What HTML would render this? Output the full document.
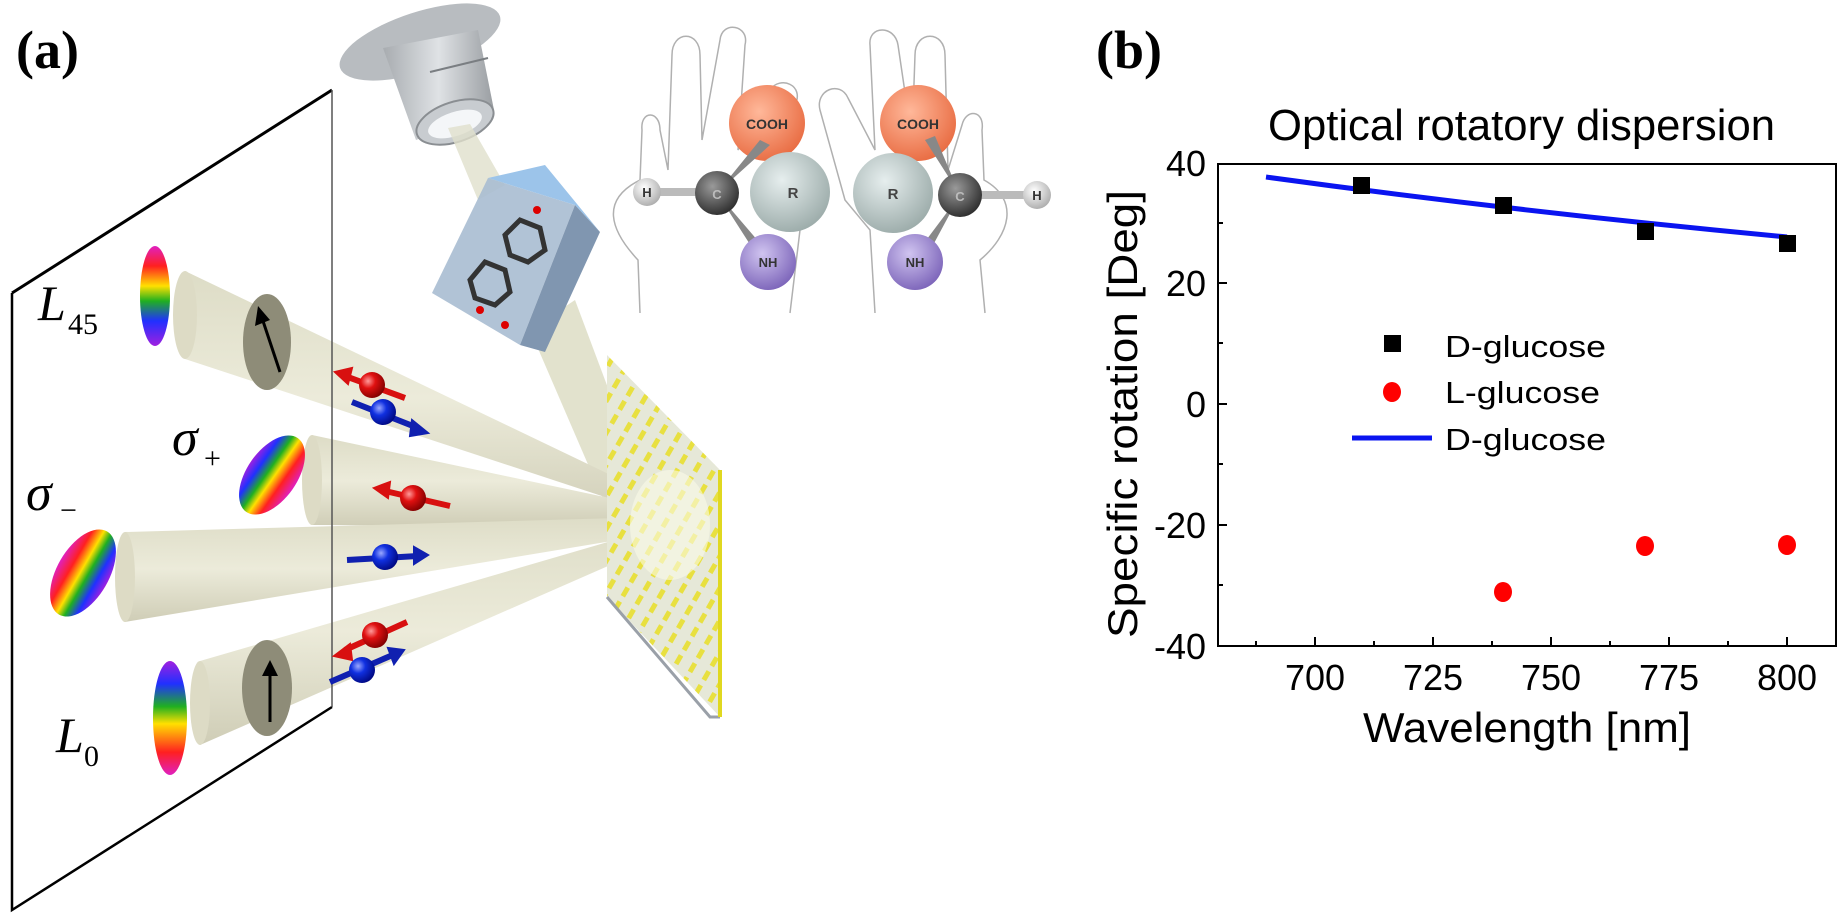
<!DOCTYPE html>
<html><head><meta charset="utf-8"><style>
html,body{margin:0;padding:0;background:#fff;width:1846px;height:919px;overflow:hidden}
svg{display:block}
</style></head><body>
<svg width="1846" height="919" viewBox="0 0 1846 919" xmlns="http://www.w3.org/2000/svg">
<defs>
<linearGradient id="rbV" x1="0" y1="0" x2="0" y2="1">
<stop offset="0" stop-color="#e020c0"/><stop offset="0.2" stop-color="#ff2020"/><stop offset="0.4" stop-color="#ffe000"/><stop offset="0.55" stop-color="#20b020"/><stop offset="0.75" stop-color="#2030ff"/><stop offset="1" stop-color="#a020e0"/></linearGradient>
<linearGradient id="rbV2" x1="0" y1="0" x2="0" y2="1">
<stop offset="0" stop-color="#a020e0"/><stop offset="0.2" stop-color="#2030ff"/><stop offset="0.4" stop-color="#20b020"/><stop offset="0.55" stop-color="#ffe000"/><stop offset="0.8" stop-color="#ff2020"/><stop offset="1" stop-color="#e020c0"/></linearGradient>
<linearGradient id="rbH" x1="0" y1="0" x2="1" y2="0">
<stop offset="0" stop-color="#e020c0"/><stop offset="0.25" stop-color="#ff2020"/><stop offset="0.45" stop-color="#ffe000"/><stop offset="0.6" stop-color="#20b020"/><stop offset="0.8" stop-color="#2030ff"/><stop offset="1" stop-color="#a020e0"/></linearGradient>
<linearGradient id="rbH2" x1="0" y1="0" x2="1" y2="0">
<stop offset="0" stop-color="#a020e0"/><stop offset="0.2" stop-color="#2030ff"/><stop offset="0.4" stop-color="#20b020"/><stop offset="0.55" stop-color="#ffe000"/><stop offset="0.75" stop-color="#ff2020"/><stop offset="1" stop-color="#e020c0"/></linearGradient>
<linearGradient id="cone" x1="0" y1="0" x2="0" y2="1">
<stop offset="0" stop-color="#dddcc6"/><stop offset="0.5" stop-color="#ecebda"/><stop offset="1" stop-color="#cfcdb6"/></linearGradient>
<radialGradient id="red" cx="0.35" cy="0.35" r="0.7"><stop offset="0" stop-color="#ff9a9a"/><stop offset="0.4" stop-color="#e01010"/><stop offset="1" stop-color="#800000"/></radialGradient>
<radialGradient id="blue" cx="0.35" cy="0.35" r="0.7"><stop offset="0" stop-color="#9aa8ff"/><stop offset="0.4" stop-color="#1030e0"/><stop offset="1" stop-color="#000880"/></radialGradient>
<radialGradient id="orn" cx="0.4" cy="0.35" r="0.7"><stop offset="0" stop-color="#ffb89a"/><stop offset="1" stop-color="#e86a40"/></radialGradient>
<radialGradient id="gry" cx="0.4" cy="0.35" r="0.7"><stop offset="0" stop-color="#e6eeee"/><stop offset="1" stop-color="#9aaaa8"/></radialGradient>
<radialGradient id="drk" cx="0.4" cy="0.35" r="0.7"><stop offset="0" stop-color="#9a9a9a"/><stop offset="1" stop-color="#2a2a2a"/></radialGradient>
<radialGradient id="pur" cx="0.4" cy="0.35" r="0.7"><stop offset="0" stop-color="#d0c4f0"/><stop offset="1" stop-color="#7a62b8"/></radialGradient>
<radialGradient id="wht" cx="0.4" cy="0.35" r="0.7"><stop offset="0" stop-color="#ffffff"/><stop offset="1" stop-color="#aaaaaa"/></radialGradient>
<linearGradient id="metal" x1="0" y1="0" x2="1" y2="0"><stop offset="0" stop-color="#a8acb0"/><stop offset="0.5" stop-color="#dfe2e5"/><stop offset="1" stop-color="#9a9ea2"/></linearGradient>
<pattern id="bars" width="16" height="16" patternUnits="userSpaceOnUse" patternTransform="rotate(30)">
<rect width="16" height="16" fill="#e6e8d8"/><rect x="3" y="3" width="5" height="10" fill="#e8e040"/></pattern>
</defs>

<text x="16" y="68" font-family="Liberation Serif, serif" font-weight="bold" font-size="54">(a)</text>

<g>
<ellipse cx="420" cy="42" rx="84" ry="30" transform="rotate(-18 420 42)" fill="#b8bcc0"/>
<path d="M383 48 L478 30 L494 110 L416 140 Z" fill="url(#metal)"/>
<ellipse cx="455" cy="122" rx="40" ry="20" transform="rotate(-18 455 122)" fill="#c8ccd0" stroke="#8a8e92" stroke-width="2"/>
<ellipse cx="455" cy="124" rx="28" ry="12" transform="rotate(-18 455 124)" fill="#f4f6f8"/>
<path d="M430 72 L488 58" stroke="#7a7e82" stroke-width="2"/>
</g>
<path d="M448 128 L470 124 L505 185 L478 200 Z" fill="#e0e0cc" opacity="0.8"/>
<path d="M530 330 L575 300 L650 500 L612 520 Z" fill="#dfdfc8" opacity="0.9"/>

<g>
<path d="M432 293 L488 178 L575 205 L520 345 Z" fill="#a9bcd2" opacity="0.9"/>
<path d="M488 178 L545 165 L600 232 L575 205 Z" fill="#9cc4ea"/>
<path d="M575 205 L600 232 L545 352 L520 345 Z" fill="#8096b0"/>
<g stroke="#333" stroke-width="5" fill="none">
<path d="M470 280 L485 262 L505 270 L510 292 L495 305 L475 298 Z"/>
<path d="M505 235 L520 220 L540 228 L545 250 L528 262 L510 255 Z"/>
</g>
<circle cx="480" cy="310" r="4" fill="#d00"/><circle cx="537" cy="210" r="4" fill="#d00"/><circle cx="505" cy="325" r="4" fill="#d00"/>
</g>

<g fill="none" stroke="#b0b0b0" stroke-width="1.5">
<path d="M640 313 L638 260 C610 230 600 200 640 180 L642 130 C640 110 660 110 660 130 L668 170 L672 55 C672 30 700 30 700 55 L702 140 L720 40 C722 20 750 25 745 45 L738 150 L770 90 C780 75 805 85 795 105 L770 200 L800 230 L790 313"/>
<path d="M875 313 L870 230 L845 200 L820 110 C815 90 840 80 848 98 L875 150 L870 45 C868 25 895 25 898 45 L912 140 L915 55 C915 30 945 30 945 55 L948 170 L962 125 C966 108 985 110 982 130 L984 180 C1020 200 1010 235 980 260 L985 313"/>
</g>

<g font-family="Liberation Sans, sans-serif" font-weight="bold" text-anchor="middle">
<circle cx="767" cy="123" r="38" fill="url(#orn)"/>
<text x="767" y="129" font-size="14" fill="#333">COOH</text>
<rect x="650" y="188" width="60" height="8" fill="#bbb"/>
<circle cx="647" cy="192" r="14" fill="url(#wht)"/><text x="647" y="197" font-size="13" fill="#333">H</text>
<path d="M717 193 L760 140 L770 145 Z" fill="#888"/>
<path d="M717 193 L770 255 L760 260 Z" fill="#888"/>
<circle cx="790" cy="192" r="40" fill="url(#gry)"/><text x="793" y="198" font-size="15" fill="#444">R</text>
<circle cx="717" cy="193" r="22" fill="url(#drk)"/><text x="717" y="199" font-size="13" fill="#bbb">C</text>
<circle cx="768" cy="262" r="28" fill="url(#pur)"/><text x="768" y="267" font-size="13" fill="#333">NH</text>

<circle cx="918" cy="123" r="38" fill="url(#orn)"/>
<text x="918" y="129" font-size="14" fill="#333">COOH</text>
<rect x="960" y="191" width="70" height="8" fill="#bbb"/>
<circle cx="1037" cy="195" r="14" fill="url(#wht)"/><text x="1037" y="200" font-size="13" fill="#333">H</text>
<path d="M960 195 L925 140 L935 136 Z" fill="#888"/>
<path d="M960 195 L915 255 L925 260 Z" fill="#888"/>
<circle cx="893" cy="193" r="40" fill="url(#gry)"/><text x="893" y="199" font-size="15" fill="#444">R</text>
<circle cx="960" cy="195" r="22" fill="url(#drk)"/><text x="960" y="201" font-size="13" fill="#bbb">C</text>
<circle cx="915" cy="262" r="28" fill="url(#pur)"/><text x="915" y="267" font-size="13" fill="#333">NH</text>
</g>

<path d="M12 293 L332 90" stroke="#000" stroke-width="3" fill="none"/>
<path d="M12 293 L12 910 L332 707" stroke="#000" stroke-width="2.5" fill="none"/>

<g>
<path d="M185 271 L690 513 L690 525 L185 359 Z" fill="url(#cone)"/>
<ellipse cx="185" cy="315" rx="12" ry="44" fill="#dddbc5"/>
<path d="M312 435 L690 515 L690 527 L312 525 Z" fill="url(#cone)"/>
<ellipse cx="312" cy="480" rx="10" ry="45" fill="#dddbc5"/>
<path d="M125 532 L690 516 L690 528 L125 622 Z" fill="url(#cone)"/>
<ellipse cx="125" cy="577" rx="10" ry="45" fill="#dddbc5"/>
<path d="M200 661 L690 518 L690 530 L200 745 Z" fill="url(#cone)"/>
<ellipse cx="200" cy="703" rx="10" ry="42" fill="#dddbc5"/>
</g>
<path d="M332 90 L332 707" stroke="#555" stroke-width="1.5"/>

<ellipse cx="267" cy="342" rx="24" ry="48" fill="#8e8c78"/>
<path d="M280 372 L262 318" stroke="#000" stroke-width="3"/>
<path d="M258 306 L255 326 L270 320 Z" fill="#000"/>
<ellipse cx="267" cy="688" rx="25" ry="48" fill="#8e8c78"/>
<path d="M270 722 L270 672" stroke="#000" stroke-width="3"/>
<path d="M270 660 L262 676 L278 676 Z" fill="#000"/>

<ellipse cx="155" cy="296" rx="15" ry="50" fill="url(#rbV)"/>
<ellipse cx="272" cy="475" rx="25" ry="45" transform="rotate(35 272 475)" fill="url(#rbH2)"/>
<ellipse cx="83" cy="573" rx="26" ry="48" transform="rotate(30 83 573)" fill="url(#rbH)"/>
<ellipse cx="170" cy="718" rx="17" ry="57" fill="url(#rbV2)"/>

<g stroke-width="6" fill="none">
<path d="M345 376 L405 398" stroke="#d81010"/><path d="M335 372 L352 368 L348 384 Z" fill="#d81010" stroke="#d81010" stroke-width="2"/>
<path d="M352 402 L418 428" stroke="#1020b0"/><path d="M428 433 L412 420 L410 436 Z" fill="#1020b0" stroke="#1020b0" stroke-width="2"/>
<path d="M385 491 L450 506" stroke="#d81010"/><path d="M374 488 L390 482 L388 498 Z" fill="#d81010" stroke="#d81010" stroke-width="2"/>
<path d="M347 560 L418 556" stroke="#1020b0"/><path d="M428 555 L414 547 L414 564 Z" fill="#1020b0" stroke="#1020b0" stroke-width="2"/>
<path d="M345 650 L407 622" stroke="#d81010"/><path d="M334 656 L350 644 L352 660 Z" fill="#d81010" stroke="#d81010" stroke-width="2"/>
<path d="M330 682 L395 654" stroke="#1020b0"/><path d="M404 650 L388 648 L394 664 Z" fill="#1020b0" stroke="#1020b0" stroke-width="2"/>
</g>
<circle cx="372" cy="385" r="13" fill="url(#red)"/>
<circle cx="383" cy="412" r="13" fill="url(#blue)"/>
<circle cx="413" cy="498" r="13" fill="url(#red)"/>
<circle cx="385" cy="557" r="13" fill="url(#blue)"/>
<circle cx="375" cy="635" r="13" fill="url(#red)"/>
<circle cx="362" cy="670" r="13" fill="url(#blue)"/>

<path d="M607 355 L720 470 L720 717 L607 597 Z" fill="url(#bars)"/>
<path d="M607 597 L710 717 L720 717" stroke="#9aa0a8" stroke-width="3" fill="none"/>
<path d="M720 470 L720 717" stroke="#e0d820" stroke-width="4"/>
<ellipse cx="670" cy="525" rx="40" ry="55" fill="#fafae8" opacity="0.6"/>

<g font-family="Liberation Serif, serif" font-style="italic">
<text x="38" y="320" font-size="50">L</text><text x="68" y="334" font-size="30" font-style="normal">45</text>
<text x="172" y="455" font-size="52">σ</text><text x="204" y="468" font-size="30" font-style="normal">+</text>
<text x="26" y="510" font-size="52">σ</text><text x="60" y="520" font-size="30" font-style="normal">−</text>
<text x="56" y="752" font-size="50">L</text><text x="84" y="766" font-size="30" font-style="normal">0</text>
</g>

<text x="1096" y="68" font-family="Liberation Serif, serif" font-weight="bold" font-size="54">(b)</text>

<g font-family="Liberation Sans, sans-serif">
<text x="1268" y="140" font-size="44" textLength="507" lengthAdjust="spacingAndGlyphs">Optical rotatory dispersion</text>
<rect x="1218" y="164" width="618" height="482" fill="none" stroke="#000" stroke-width="2"/>
<g stroke="#000" stroke-width="2">
<path d="M1218 164 h9 M1218 283 h9 M1218 404 h9 M1218 525 h9"/>
<path d="M1218 223 h5 M1218 343 h5 M1218 464 h5 M1218 585 h5"/>
<path d="M1315 646 v-9 M1433 646 v-9 M1551 646 v-9 M1669 646 v-9 M1787 646 v-9"/>
<path d="M1256 646 v-5 M1374 646 v-5 M1492 646 v-5 M1610 646 v-5 M1728 646 v-5"/>
</g>
<g font-size="36" text-anchor="end">
<text x="1206" y="176">40</text><text x="1206" y="296">20</text><text x="1206" y="417">0</text>
<text x="1206" y="538">-20</text><text x="1206" y="659">-40</text>
</g>
<g font-size="36" text-anchor="middle">
<text x="1315" y="690">700</text><text x="1433" y="690">725</text><text x="1551" y="690">750</text>
<text x="1669" y="690">775</text><text x="1787" y="690">800</text>
</g>
<text x="1363" y="742" font-size="42" textLength="328" lengthAdjust="spacingAndGlyphs">Wavelength [nm]</text>
<text transform="translate(1137 414) rotate(-90)" font-size="42" text-anchor="middle" textLength="448" lengthAdjust="spacingAndGlyphs">Specific rotation [Deg]</text>

<path d="M1266 177 Q1520 212 1787 237" stroke="#0a14f0" stroke-width="5" fill="none"/>
<g fill="#000">
<rect x="1353" y="177" width="17" height="17"/><rect x="1495" y="197" width="17" height="17"/>
<rect x="1637" y="223" width="17" height="17"/><rect x="1779" y="235" width="17" height="17"/>
</g>
<g fill="#f00">
<ellipse cx="1503" cy="592" rx="9" ry="10"/><ellipse cx="1645" cy="546" rx="9" ry="10"/><ellipse cx="1787" cy="545" rx="9" ry="10"/>
</g>
<rect x="1384" y="335" width="17" height="17" fill="#000"/>
<ellipse cx="1392" cy="392" rx="9" ry="10" fill="#f00"/>
<path d="M1352 438 H1432" stroke="#0a14f0" stroke-width="5"/>
<g font-size="31">
<text x="1445" y="357" textLength="161" lengthAdjust="spacingAndGlyphs">D-glucose</text>
<text x="1445" y="403" textLength="155" lengthAdjust="spacingAndGlyphs">L-glucose</text>
<text x="1445" y="450" textLength="161" lengthAdjust="spacingAndGlyphs">D-glucose</text>
</g>
</g>
</svg>
</body></html>
